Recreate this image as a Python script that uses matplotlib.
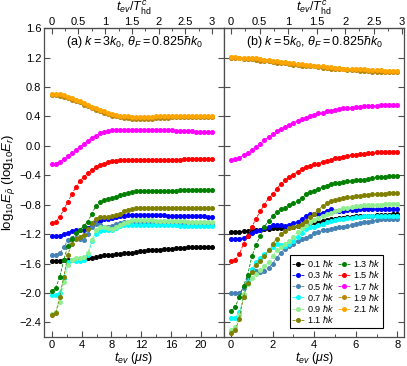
import numpy as np
import matplotlib
matplotlib.use("Agg")
import matplotlib.pyplot as plt
from matplotlib.ticker import MultipleLocator, FuncFormatter

plt.rcParams['font.family'] = ['Liberation Sans', 'DejaVu Sans']
plt.rcParams['mathtext.fontset'] = 'custom'
plt.rcParams['mathtext.rm'] = 'Liberation Sans'
plt.rcParams['mathtext.it'] = 'Liberation Sans:italic'
plt.rcParams['mathtext.bf'] = 'Liberation Sans:bold'

labels = ['0.1', '0.3', '0.5', '0.7', '0.9', '1.1', '1.3', '1.5', '1.7', '1.9', '2.1']
colors = ['black', 'blue', 'steelblue', 'cyan', 'lightgreen', 'olive',
          'green', 'red', 'magenta', 'darkgoldenrod', 'orange']
yticks = [-2.4, -2.0, -1.6, -1.2, -0.8, -0.4, 0.0, 0.4, 0.8, 1.2, 1.6]

# time grids (us)
t_a = np.linspace(0, 21.5, 41)
t_b = np.linspace(0, 8.0, 41)
T_a = 7.16   # T_hd^c for panel (a), us
T_b = 2.745  # T_hd^c for panel (b), us

# panel (a): k = 3 k0
black_a = [-1.56, -1.56, -1.56, -1.55, -1.55, -1.55, -1.54, -1.54, -1.53, -1.53,
           -1.52, -1.51, -1.50, -1.49, -1.49, -1.48, -1.47, -1.47, -1.46, -1.46,
           -1.45, -1.44, -1.43, -1.43, -1.42, -1.42, -1.41, -1.41, -1.40, -1.40,
           -1.40, -1.39, -1.39, -1.39, -1.38, -1.38, -1.38, -1.38, -1.37, -1.37, -1.37]
blue_a = [-1.22, -1.23, -1.22, -1.20, -1.18, -1.16, -1.15, -1.15, -1.15, -1.12,
          -1.07, -1.04, -1.02, -1.00, -0.99, -0.98, -0.97, -0.96, -0.95, -0.94,
          -0.94, -0.94, -0.94, -0.94, -0.94, -0.94, -0.94, -0.94, -0.94, -0.95,
          -0.95, -0.95, -0.95, -0.95, -0.96, -0.96, -0.96, -0.96, -0.96, -0.97, -0.97]
steel_a = [-1.48, -1.48, -1.46, -1.38, -1.28, -1.25, -1.25, -1.27, -1.28, -1.20,
           -1.10, -1.06, -1.07, -1.10, -1.11, -1.09, -1.06, -1.05, -1.04, -1.03,
           -1.03, -1.03, -1.03, -1.03, -1.03, -1.04, -1.04, -1.04, -1.04, -1.04,
           -1.05, -1.05, -1.05, -1.05, -1.05, -1.05, -1.06, -1.06, -1.06, -1.06, -1.06]
cyan_a = [-2.03, -2.03, -2.00, -1.80, -1.58, -1.55, -1.56, -1.56, -1.55, -1.48,
          -1.30, -1.20, -1.16, -1.15, -1.15, -1.14, -1.12, -1.09, -1.08, -1.07,
          -1.07, -1.07, -1.07, -1.07, -1.08, -1.08, -1.08, -1.08, -1.08, -1.08,
          -1.08, -1.08, -1.09, -1.09, -1.09, -1.09, -1.09, -1.09, -1.09, -1.09, -1.09]
lgreen_a = [-2.28, -2.26, -2.12, -1.85, -1.62, -1.55, -1.53, -1.52, -1.51, -1.46,
            -1.28, -1.15, -1.11, -1.11, -1.12, -1.13, -1.11, -1.07, -1.05, -1.03,
            -1.01, -1.01, -1.01, -1.01, -1.01, -1.01, -1.02, -1.02, -1.02, -1.02,
            -1.02, -1.02, -1.02, -1.02, -1.03, -1.03, -1.03, -1.03, -1.03, -1.03, -1.03]
olive_a = [-2.30, -2.27, -2.05, -1.78, -1.48, -1.33, -1.27, -1.24, -1.21, -1.13,
           -1.05, -0.99, -0.97, -0.97, -0.97, -0.96, -0.94, -0.92, -0.89, -0.87,
           -0.86, -0.85, -0.85, -0.84, -0.84, -0.84, -0.84, -0.84, -0.84, -0.84,
           -0.84, -0.84, -0.84, -0.84, -0.85, -0.85, -0.85, -0.85, -0.85, -0.85, -0.85]
green_a = [-1.97, -1.93, -1.78, -1.55, -1.36, -1.26, -1.19, -1.14, -1.09, -1.03,
           -0.92, -0.82, -0.77, -0.74, -0.72, -0.71, -0.69, -0.67, -0.65, -0.64,
           -0.63, -0.62, -0.62, -0.61, -0.61, -0.61, -0.61, -0.61, -0.61, -0.61,
           -0.61, -0.61, -0.60, -0.60, -0.60, -0.60, -0.60, -0.60, -0.60, -0.60, -0.60]
red_a = [-1.05, -1.03, -0.97, -0.86, -0.76, -0.66, -0.56, -0.48, -0.42, -0.37,
         -0.33, -0.29, -0.26, -0.24, -0.22, -0.21, -0.20, -0.19, -0.19, -0.19,
         -0.19, -0.19, -0.19, -0.19, -0.19, -0.19, -0.19, -0.19, -0.19, -0.19,
         -0.19, -0.19, -0.19, -0.18, -0.18, -0.18, -0.18, -0.18, -0.18, -0.18, -0.18]
magenta_a = [-0.25, -0.24, -0.22, -0.18, -0.14, -0.10, -0.06, -0.02, 0.03, 0.07,
             0.11, 0.14, 0.17, 0.19, 0.20, 0.21, 0.22, 0.22, 0.22, 0.22,
             0.22, 0.22, 0.22, 0.22, 0.22, 0.22, 0.21, 0.21, 0.21, 0.21,
             0.21, 0.20, 0.20, 0.20, 0.20, 0.20, 0.19, 0.19, 0.19, 0.19, 0.19]
gold_a = [0.69, 0.69, 0.68, 0.67, 0.65, 0.63, 0.61, 0.59, 0.56, 0.54,
          0.51, 0.49, 0.47, 0.45, 0.43, 0.41, 0.40, 0.39, 0.38, 0.38,
          0.37, 0.37, 0.37, 0.37, 0.37, 0.37, 0.38, 0.38, 0.38, 0.38,
          0.39, 0.39, 0.39, 0.39, 0.39, 0.39, 0.39, 0.39, 0.39, 0.39, 0.39]
orange_a = [0.71, 0.71, 0.70, 0.69, 0.67, 0.65, 0.63, 0.61, 0.58, 0.56,
            0.53, 0.51, 0.49, 0.47, 0.45, 0.43, 0.42, 0.41, 0.40, 0.40,
            0.39, 0.39, 0.39, 0.39, 0.39, 0.39, 0.40, 0.40, 0.40, 0.40,
            0.41, 0.41, 0.41, 0.41, 0.41, 0.41, 0.41, 0.41, 0.41, 0.41, 0.41]

# panel (b): k = 5 k0
black_b = [-1.17, -1.17, -1.17, -1.16, -1.16, -1.15, -1.14, -1.14, -1.13, -1.13,
           -1.12, -1.12, -1.12, -1.11, -1.11, -1.10, -1.09, -1.07, -1.06, -1.05,
           -1.04, -1.03, -1.02, -1.01, -1.00, -0.99, -0.98, -0.98, -0.97, -0.97,
           -0.96, -0.96, -0.95, -0.95, -0.95, -0.94, -0.94, -0.94, -0.94, -0.93, -0.93]
blue_b = [-1.27, -1.27, -1.26, -1.25, -1.22, -1.19, -1.16, -1.14, -1.12, -1.10,
          -1.08, -1.07, -1.08, -1.09, -1.07, -1.05, -1.03, -0.99, -0.95, -0.93,
          -0.93, -0.92, -0.91, -0.88, -0.86, -0.88, -0.89, -0.88, -0.87, -0.87,
          -0.87, -0.86, -0.86, -0.86, -0.86, -0.86, -0.86, -0.86, -0.86, -0.86, -0.86]
steel_b = [-2.00, -2.00, -2.00, -1.93, -1.80, -1.72, -1.70, -1.71, -1.70, -1.66,
           -1.60, -1.52, -1.45, -1.40, -1.36, -1.33, -1.30, -1.27, -1.25, -1.22,
           -1.19, -1.17, -1.15, -1.14, -1.13, -1.12, -1.11, -1.10, -1.09, -1.08,
           -1.06, -1.05, -1.04, -1.03, -1.02, -1.01, -1.00, -1.00, -0.99, -0.99, -0.99]
cyan_b = [-2.34, -2.34, -2.26, -2.05, -1.85, -1.68, -1.58, -1.52, -1.47, -1.42,
          -1.37, -1.34, -1.35, -1.36, -1.34, -1.30, -1.24, -1.18, -1.13, -1.11,
          -1.10, -1.08, -1.06, -1.04, -1.02, -1.01, -1.00, -0.99, -0.98, -0.98,
          -0.97, -0.97, -0.96, -0.96, -0.96, -0.95, -0.95, -0.95, -0.95, -0.95, -0.95]
lgreen_b = [-2.50, -2.46, -2.30, -2.02, -1.88, -1.80, -1.74, -1.69, -1.64, -1.58,
            -1.50, -1.42, -1.37, -1.34, -1.30, -1.24, -1.17, -1.12, -1.08, -1.04,
            -1.01, -0.98, -0.95, -0.93, -0.91, -0.89, -0.87, -0.85, -0.84, -0.83,
            -0.82, -0.82, -0.81, -0.81, -0.80, -0.80, -0.80, -0.79, -0.79, -0.79, -0.79]
olive_b = [-2.54, -2.50, -2.35, -2.05, -1.86, -1.72, -1.62, -1.57, -1.50, -1.42,
           -1.33, -1.26, -1.20, -1.16, -1.12, -1.10, -1.09, -1.06, -1.02, -0.97,
           -0.92, -0.87, -0.82, -0.78, -0.75, -0.73, -0.72, -0.71, -0.70, -0.69,
           -0.68, -0.68, -0.67, -0.67, -0.66, -0.66, -0.65, -0.65, -0.64, -0.64, -0.64]
green_b = [-2.25, -2.19, -2.05, -1.90, -1.75, -1.50, -1.35, -1.22, -1.10, -1.02,
           -0.96, -0.90, -0.86, -0.84, -0.81, -0.78, -0.75, -0.71, -0.66, -0.63,
           -0.61, -0.59, -0.56, -0.54, -0.52, -0.51, -0.50, -0.49, -0.48, -0.48,
           -0.47, -0.47, -0.46, -0.45, -0.44, -0.43, -0.42, -0.42, -0.41, -0.41, -0.41]
red_b = [-1.57, -1.55, -1.47, -1.33, -1.22, -1.10, -0.99, -0.89, -0.80, -0.71,
         -0.66, -0.58, -0.52, -0.47, -0.43, -0.39, -0.35, -0.32, -0.29, -0.27,
         -0.25, -0.24, -0.22, -0.20, -0.19, -0.17, -0.16, -0.15, -0.14, -0.13,
         -0.12, -0.11, -0.11, -0.10, -0.10, -0.09, -0.09, -0.09, -0.09, -0.09, -0.08]
magenta_b = [-0.19, -0.18, -0.16, -0.13, -0.10, -0.06, -0.02, 0.03, 0.08, 0.12,
             0.16, 0.20, 0.23, 0.26, 0.29, 0.31, 0.34, 0.36, 0.38, 0.40,
             0.42, 0.44, 0.45, 0.47, 0.48, 0.49, 0.50, 0.51, 0.52, 0.52,
             0.53, 0.53, 0.54, 0.54, 0.54, 0.54, 0.55, 0.55, 0.55, 0.55, 0.55]
gold_b = [1.19, 1.19, 1.19, 1.18, 1.18, 1.18, 1.17, 1.16, 1.16, 1.15,
          1.14, 1.13, 1.13, 1.12, 1.11, 1.10, 1.10, 1.09, 1.09, 1.08,
          1.08, 1.07, 1.06, 1.06, 1.05, 1.05, 1.04, 1.04, 1.03, 1.03,
          1.03, 1.02, 1.02, 1.02, 1.01, 1.01, 1.01, 1.01, 1.00, 1.00, 1.00]
orange_b = [1.21, 1.21, 1.20, 1.20, 1.20, 1.19, 1.19, 1.18, 1.17, 1.17,
            1.16, 1.15, 1.14, 1.14, 1.13, 1.12, 1.11, 1.11, 1.10, 1.10,
            1.09, 1.09, 1.08, 1.07, 1.07, 1.06, 1.06, 1.05, 1.05, 1.05,
            1.04, 1.04, 1.04, 1.03, 1.03, 1.03, 1.03, 1.02, 1.02, 1.02, 1.02]

series_a = [black_a, blue_a, steel_a, cyan_a, lgreen_a, olive_a,
            green_a, red_a, magenta_a, gold_a, orange_a]
series_b = [black_b, blue_b, steel_b, cyan_b, lgreen_b, olive_b,
            green_b, red_b, magenta_b, gold_b, orange_b]

fig, (ax1, ax2) = plt.subplots(1, 2, sharey=True, figsize=(4.07, 3.66), dpi=100)
fig.subplots_adjust(left=0.108, right=0.993, bottom=0.079, top=0.923, wspace=0)

spine_col = '0.3'
gfmt = FuncFormatter(lambda v, p: f'{v:g}')
panels = [(ax1, t_a, series_a, T_a, (-1.05, 23.1), 4, 2, '(a) $k=3k_0$, $\\theta_F=0.825\\hbar k_0$'),
          (ax2, t_b, series_b, T_b, (-0.34, 8.33), 2, 1, '(b) $k=5k_0$, $\\theta_F=0.825\\hbar k_0$')]

for ax, t, series, T, xl, maj, mnr, title in panels:
    for lab, col, y in zip(labels, colors, series):
        ax.plot(t, y, ls='--', lw=0.6, color=col, marker='o', ms=2.6,
                mec=col, mfc=col, label=lab + r' $\hbar k$')
    ax.set_xlim(*xl)
    ax.set_ylim(-2.6, 1.6)
    ax.xaxis.set_major_locator(MultipleLocator(maj))
    ax.xaxis.set_minor_locator(MultipleLocator(mnr))
    ax.xaxis.set_major_formatter(gfmt)
    ax.set_yticks(yticks)
    ax.tick_params(which='both', direction='in', left=True, right=True,
                   top=False, labelsize=8, color=spine_col, pad=2)
    ax.tick_params(which='major', length=4.5, width=0.8)
    ax.tick_params(which='minor', length=2.5, width=0.7)
    for s in ax.spines.values():
        s.set_color(spine_col)
        s.set_linewidth(0.9)
    ax.set_xlabel(r'$t_{ev}$ ($\mu s$)', fontsize=9, labelpad=0)
    ax.text(0.5, 0.955, title, transform=ax.transAxes, ha='center', va='center',
            fontsize=9)
    top = ax.secondary_xaxis('top', functions=(lambda x, T=T: x / T,
                                               lambda x, T=T: x * T))
    top.xaxis.set_major_locator(MultipleLocator(0.5))
    top.xaxis.set_minor_locator(MultipleLocator(0.25))
    top.xaxis.set_major_formatter(gfmt)
    top.tick_params(which='both', direction='in', labelsize=8, color=spine_col, pad=1)
    top.tick_params(which='major', length=4.5, width=0.8)
    top.tick_params(which='minor', length=2.5, width=0.7)
    top.spines['top'].set_color(spine_col)
    ax.text(0.5, 1.063, r'$t_{ev}/T^c_{\rm hd}$', transform=ax.transAxes,
            ha='center', va='center', fontsize=9)

ax1.yaxis.set_major_formatter(
    FuncFormatter(lambda v, p: f'{v + 0.0:.1f}'.replace('-', '\u2212') if abs(v) > 1e-9 else '0.0'))
ax2.tick_params(labelleft=False)
ax1.set_ylabel(r'log$_{10}E_{\bar{\rho}}$ (log$_{10}E_r$)', fontsize=9.5, labelpad=1)

leg = ax2.legend(ncol=2, loc='lower right', bbox_to_anchor=(0.88, 0.03),
                 fontsize=6.6, handlelength=1.3, handletextpad=0.3,
                 columnspacing=0.4, labelspacing=0.02, borderpad=0.3,
                 borderaxespad=0, fancybox=False, framealpha=1)
leg.get_frame().set_edgecolor('black')
leg.get_frame().set_linewidth(0.8)

fig.savefig('out.png', dpi=100)
